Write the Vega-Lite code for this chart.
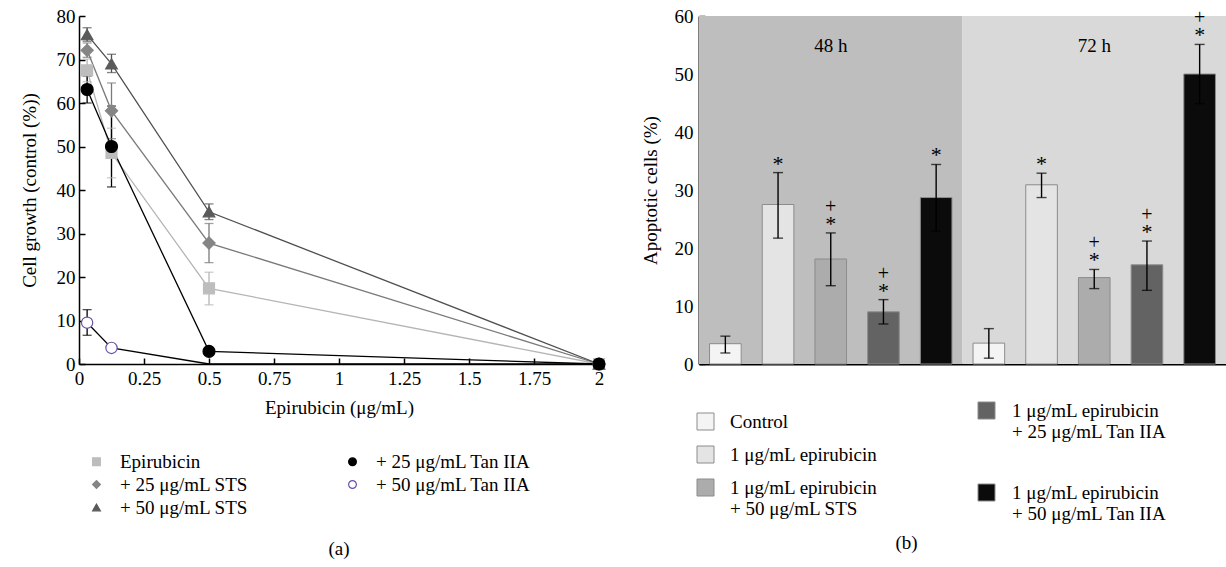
{
  "$schema": "https://vega.github.io/schema/vega-lite/v6.json",
  "padding": {"left": 20, "top": 7, "right": 0, "bottom": 0},
  "config": {
    "font": "Liberation Serif",
    "view": {"stroke": null},
    "axis": {"labelFont": "Liberation Serif", "titleFont": "Liberation Serif", "labelFontSize": 19, "titleFontSize": 19, "titleFontWeight": "normal", "labelColor": "#000", "titleColor": "#000", "domainColor": "#000", "tickColor": "#000", "grid": false, "domainWidth": 1.5, "tickWidth": 1.5},
    "legend": {"labelFont": "Liberation Serif", "labelFontSize": 19, "labelColor": "#000", "labelLimit": 400},
    "title": {"font": "Liberation Serif", "fontSize": 19, "fontWeight": "normal", "color": "#000"},
    "text": {"font": "Liberation Serif"}
  },
  "datasets": {
    "growth": [
      {"series": "Epirubicin", "conc": 0.03125, "pct": 67.5, "lo": 64.9, "hi": 70.1},
      {"series": "Epirubicin", "conc": 0.125, "pct": 48.5, "lo": 42.8, "hi": 54.2},
      {"series": "Epirubicin", "conc": 0.5, "pct": 17.4, "lo": 13.6, "hi": 21.1},
      {"series": "Epirubicin", "conc": 2, "pct": 0, "lo": 0, "hi": 0},
      {"series": "+ 25 μg/mL STS", "conc": 0.03125, "pct": 72.1, "lo": 70.5, "hi": 73.8},
      {"series": "+ 25 μg/mL STS", "conc": 0.125, "pct": 58.2, "lo": 51.8, "hi": 64.6},
      {"series": "+ 25 μg/mL STS", "conc": 0.5, "pct": 27.8, "lo": 23.3, "hi": 32.3},
      {"series": "+ 25 μg/mL STS", "conc": 2, "pct": 0, "lo": 0, "hi": 0},
      {"series": "+ 50 μg/mL STS", "conc": 0.03125, "pct": 75.7, "lo": 74.2, "hi": 77.3},
      {"series": "+ 50 μg/mL STS", "conc": 0.125, "pct": 69.0, "lo": 67.0, "hi": 71.2},
      {"series": "+ 50 μg/mL STS", "conc": 0.5, "pct": 35.0, "lo": 33.2, "hi": 36.8},
      {"series": "+ 50 μg/mL STS", "conc": 2, "pct": 0, "lo": 0, "hi": 0},
      {"series": "+ 50 μg/mL Tan IIA", "conc": 0.03125, "pct": 9.5, "lo": 6.6, "hi": 12.5},
      {"series": "+ 50 μg/mL Tan IIA", "conc": 0.125, "pct": 3.7, "lo": 3.7, "hi": 3.7},
      {"series": "+ 50 μg/mL Tan IIA", "conc": 0.5, "pct": 0, "lo": 0, "hi": 0},
      {"series": "+ 50 μg/mL Tan IIA", "conc": 2, "pct": 0, "lo": 0, "hi": 0},
      {"series": "+ 25 μg/mL Tan IIA", "conc": 0.03125, "pct": 63.1, "lo": 60.0, "hi": 66.2},
      {"series": "+ 25 μg/mL Tan IIA", "conc": 0.125, "pct": 50.0, "lo": 40.7, "hi": 59.3},
      {"series": "+ 25 μg/mL Tan IIA", "conc": 0.5, "pct": 2.9, "lo": 2.9, "hi": 2.9},
      {"series": "+ 25 μg/mL Tan IIA", "conc": 2, "pct": 0, "lo": 0, "hi": 0}
    ],
    "periods": [
      {"period": "48 h"},
      {"period": "72 h"}
    ],
    "apop": [
      {"period": "48 h", "treatment": "Control", "pct": 3.5, "lo": 1.9, "hi": 4.8, "star": false, "plus": false},
      {"period": "48 h", "treatment": "1 μg/mL epirubicin", "pct": 27.5, "lo": 21.7, "hi": 33.0, "star": true, "plus": false},
      {"period": "48 h", "treatment": "1 μg/mL epirubicin|+ 50 μg/mL STS", "pct": 18.1, "lo": 13.5, "hi": 22.6, "star": true, "plus": true},
      {"period": "48 h", "treatment": "1 μg/mL epirubicin|+ 25 μg/mL Tan IIA", "pct": 9.0, "lo": 6.9, "hi": 11.1, "star": true, "plus": true},
      {"period": "48 h", "treatment": "1 μg/mL epirubicin|+ 50 μg/mL Tan IIA", "pct": 28.7, "lo": 22.9, "hi": 34.4, "star": true, "plus": false},
      {"period": "72 h", "treatment": "Control", "pct": 3.6, "lo": 1.0, "hi": 6.1, "star": false, "plus": false},
      {"period": "72 h", "treatment": "1 μg/mL epirubicin", "pct": 30.9, "lo": 28.7, "hi": 32.9, "star": true, "plus": false},
      {"period": "72 h", "treatment": "1 μg/mL epirubicin|+ 50 μg/mL STS", "pct": 14.9, "lo": 13.0, "hi": 16.3, "star": true, "plus": true},
      {"period": "72 h", "treatment": "1 μg/mL epirubicin|+ 25 μg/mL Tan IIA", "pct": 17.1, "lo": 12.7, "hi": 21.2, "star": true, "plus": true},
      {"period": "72 h", "treatment": "1 μg/mL epirubicin|+ 50 μg/mL Tan IIA", "pct": 50.0, "lo": 44.9, "hi": 55.1, "star": true, "plus": true}
    ]
  },
  "spacing": 33,
  "resolve": {
    "scale": {"color": "independent", "fill": "independent", "stroke": "independent", "shape": "independent", "size": "independent", "xOffset": "independent"},
    "legend": {"color": "independent", "fill": "independent", "stroke": "independent", "shape": "independent", "size": "independent"}
  },
  "hconcat": [
    {
      "width": 520,
      "height": 348,
      "data": {"name": "growth"},
      "title": {"text": "(a)", "orient": "bottom", "offset": 22},
      "layer": [
        {
          "transform": [{"filter": "datum.hi > datum.lo"}],
          "mark": {"type": "rule", "strokeWidth": 1.3},
          "encoding": {
            "x": {"field": "conc", "type": "quantitative", "scale": {"domain": [0, 2], "padding": 0, "nice": false}, "axis": {"values": [0, 0.25, 0.5, 0.75, 1, 1.25, 1.5, 1.75, 2], "labelExpr": "'' + datum.value", "labelFlush": false, "title": "Epirubicin (μg/mL)", "tickSize": -6, "labelPadding": 11, "titlePadding": 10}},
            "y": {"field": "lo", "type": "quantitative", "scale": {"domain": [0, 80], "padding": 0, "nice": false}, "axis": {"values": [0, 10, 20, 30, 40, 50, 60, 70, 80], "title": "Cell growth (control (%))", "tickSize": -6, "labelPadding": 10, "titlePadding": 17}},
            "y2": {"field": "hi"},
            "color": {"field": "series", "type": "nominal", "scale": {"domain": ["+ 25 μg/mL STS", "+ 25 μg/mL Tan IIA", "+ 50 μg/mL STS", "+ 50 μg/mL Tan IIA", "Epirubicin"], "range": ["#7a7a7a", "#000000", "#4f4f4f", "#000000", "#b5b5b5"]}, "legend": null}
          }
        },
        {
          "transform": [{"filter": "datum.hi > datum.lo"}],
          "mark": {"type": "tick", "orient": "horizontal", "size": 9, "thickness": 1.3},
          "encoding": {
            "x": {"field": "conc", "type": "quantitative"},
            "y": {"field": "lo", "type": "quantitative"},
            "color": {"field": "series", "type": "nominal", "legend": null}
          }
        },
        {
          "transform": [{"filter": "datum.hi > datum.lo"}],
          "mark": {"type": "tick", "orient": "horizontal", "size": 9, "thickness": 1.3},
          "encoding": {
            "x": {"field": "conc", "type": "quantitative"},
            "y": {"field": "hi", "type": "quantitative"},
            "color": {"field": "series", "type": "nominal", "legend": null}
          }
        },
        {
          "mark": {"type": "line", "strokeWidth": 1.3},
          "encoding": {
            "x": {"field": "conc", "type": "quantitative"},
            "y": {"field": "pct", "type": "quantitative"},
            "color": {"field": "series", "type": "nominal", "legend": null}
          }
        },
        {
          "transform": [{"filter": "datum.pct > 0 || datum.series !== '+ 50 μg/mL Tan IIA'"}],
          "mark": {"type": "point", "filled": true, "strokeWidth": 1.2, "opacity": 1},
          "encoding": {
            "x": {"field": "conc", "type": "quantitative"},
            "y": {"field": "pct", "type": "quantitative"},
            "size": {"field": "series", "type": "ordinal", "scale": {"domain": ["+ 25 μg/mL STS", "+ 25 μg/mL Tan IIA", "+ 50 μg/mL STS", "+ 50 μg/mL Tan IIA", "Epirubicin"], "range": [150, 120, 190, 120, 95]}, "legend": null},
            "shape": {"field": "series", "type": "nominal", "scale": {"domain": ["Epirubicin", "+ 25 μg/mL STS", "+ 50 μg/mL STS", "+ 25 μg/mL Tan IIA", "+ 50 μg/mL Tan IIA"], "range": ["square", "diamond", "triangle-up", "circle", "circle"]},
              "legend": {"title": null, "orient": "none", "legendX": 0, "legendY": 436, "columns": 2, "columnPadding": 86, "rowPadding": 3, "symbolSize": 60, "symbolOffset": 8, "labelOffset": 14, "symbolStrokeWidth": 1.2,
                "labelExpr": "datum.label === 'Epirubicin' ? '\u00a0\u00a0Epirubicin' : datum.label"}},
            "fill": {"field": "series", "type": "nominal", "scale": {"domain": ["Epirubicin", "+ 25 μg/mL STS", "+ 50 μg/mL STS", "+ 25 μg/mL Tan IIA", "+ 50 μg/mL Tan IIA"], "range": ["#bdbdbd", "#858585", "#5a5a5a", "#000000", "#ffffff"]},
              "legend": {"title": null, "orient": "none", "legendX": 0, "legendY": 436, "columns": 2, "columnPadding": 86, "rowPadding": 3, "symbolSize": 60, "symbolOffset": 8, "labelOffset": 14, "symbolStrokeWidth": 1.2,
                "labelExpr": "datum.label === 'Epirubicin' ? '\u00a0\u00a0Epirubicin' : datum.label"}},
            "stroke": {"field": "series", "type": "nominal", "scale": {"domain": ["Epirubicin", "+ 25 μg/mL STS", "+ 50 μg/mL STS", "+ 25 μg/mL Tan IIA", "+ 50 μg/mL Tan IIA"], "range": ["#bdbdbd", "#858585", "#5a5a5a", "#000000", "#6a50a7"]},
              "legend": {"title": null, "orient": "none", "legendX": 0, "legendY": 436, "columns": 2, "columnPadding": 86, "rowPadding": 3, "symbolSize": 60, "symbolOffset": 8, "labelOffset": 14, "symbolStrokeWidth": 1.2,
                "labelExpr": "datum.label === 'Epirubicin' ? '\u00a0\u00a0Epirubicin' : datum.label"}}
          }
        }
      ]
    },
    {
      "width": 527,
      "height": 348,
      "title": {"text": "(b)", "orient": "bottom", "offset": 10, "dx": -56},
      "layer": [
        {
          "data": {"name": "periods"},
          "mark": {"type": "bar"},
          "encoding": {
            "x": {"field": "period", "type": "nominal", "scale": {"domain": ["48 h", "72 h"], "paddingInner": 0, "paddingOuter": 0}, "axis": {"labels": false, "ticks": false, "title": null, "domainWidth": 2}},
            "y": {"datum": 60, "type": "quantitative", "scale": {"domain": [0, 60]}, "axis": {"values": [0, 10, 20, 30, 40, 50, 60], "title": "Apoptotic cells (%)", "tickSize": -6, "labelPadding": 12, "titlePadding": 14, "domainWidth": 2}},
            "y2": {"datum": 0},
            "color": {"condition": {"test": "datum.period === '48 h'", "value": "#bebebe"}, "value": "#d9d9d9"}
          }
        },
        {
          "data": {"name": "periods"},
          "mark": {"type": "text", "fontSize": 19, "baseline": "middle"},
          "encoding": {
            "x": {"field": "period", "type": "nominal"},
            "y": {"datum": 54.8, "type": "quantitative", "axis": {"title": "Apoptotic cells (%)"}},
            "text": {"field": "period"}
          }
        },
        {
          "data": {"name": "apop"},
          "transform": [{"filter": {"field": "treatment", "oneOf": ["Control", "1 μg/mL epirubicin", "1 μg/mL epirubicin|+ 50 μg/mL STS"]}}],
          "mark": {"type": "bar", "stroke": "#8c8c8c", "strokeWidth": 1},
          "encoding": {
            "x": {"field": "period", "type": "nominal"},
            "xOffset": {"field": "treatment", "type": "nominal", "scale": {"domain": ["Control", "1 μg/mL epirubicin", "1 μg/mL epirubicin|+ 50 μg/mL STS", "1 μg/mL epirubicin|+ 25 μg/mL Tan IIA", "1 μg/mL epirubicin|+ 50 μg/mL Tan IIA"], "paddingInner": 0.4, "paddingOuter": 0.2}},
            "y": {"field": "pct", "type": "quantitative", "axis": {"title": "Apoptotic cells (%)"}},
            "color": {"field": "treatment", "type": "nominal", "scale": {"domain": ["Control", "1 μg/mL epirubicin", "1 μg/mL epirubicin|+ 50 μg/mL STS"], "range": ["#f4f4f4", "#e4e4e4", "#acacac"]},
              "legend": {"title": null, "orient": "none", "legendX": -3, "legendY": 396, "symbolType": "square", "symbolSize": 289, "rowPadding": 12, "labelOffset": 15, "symbolStrokeColor": "#8c8c8c", "symbolStrokeWidth": 1, "labelExpr": "split(datum.label, '|')"}}
          }
        },
        {
          "data": {"name": "apop"},
          "transform": [{"filter": {"field": "treatment", "oneOf": ["1 μg/mL epirubicin|+ 25 μg/mL Tan IIA", "1 μg/mL epirubicin|+ 50 μg/mL Tan IIA"]}}],
          "mark": {"type": "bar", "stroke": "#8c8c8c", "strokeWidth": 1},
          "encoding": {
            "x": {"field": "period", "type": "nominal"},
            "xOffset": {"field": "treatment", "type": "nominal"},
            "y": {"field": "pct", "type": "quantitative", "axis": {"title": "Apoptotic cells (%)"}},
            "fill": {"field": "treatment", "type": "nominal", "scale": {"domain": ["1 μg/mL epirubicin|+ 25 μg/mL Tan IIA", "1 μg/mL epirubicin|+ 50 μg/mL Tan IIA"], "range": ["#636363", "#0b0b0b"]},
              "legend": {"title": null, "orient": "none", "legendX": 278, "legendY": 385, "symbolType": "square", "symbolSize": 289, "rowPadding": 40, "labelOffset": 16, "symbolStrokeColor": "#8c8c8c", "symbolStrokeWidth": 1, "labelExpr": "split(datum.label, '|')"}}
          }
        },
        {
          "data": {"name": "apop"},
          "mark": {"type": "rule", "color": "#000", "strokeWidth": 1.4},
          "encoding": {
            "x": {"field": "period", "type": "nominal"},
            "xOffset": {"field": "treatment", "type": "nominal"},
            "y": {"field": "lo", "type": "quantitative", "axis": {"title": "Apoptotic cells (%)"}},
            "y2": {"field": "hi"}
          }
        },
        {
          "data": {"name": "apop"},
          "mark": {"type": "tick", "color": "#000", "size": 10, "thickness": 1.4, "orient": "horizontal"},
          "encoding": {
            "x": {"field": "period", "type": "nominal"},
            "xOffset": {"field": "treatment", "type": "nominal"},
            "y": {"field": "lo", "type": "quantitative", "axis": {"title": "Apoptotic cells (%)"}}
          }
        },
        {
          "data": {"name": "apop"},
          "mark": {"type": "tick", "color": "#000", "size": 10, "thickness": 1.4, "orient": "horizontal"},
          "encoding": {
            "x": {"field": "period", "type": "nominal"},
            "xOffset": {"field": "treatment", "type": "nominal"},
            "y": {"field": "hi", "type": "quantitative", "axis": {"title": "Apoptotic cells (%)"}}
          }
        },
        {
          "data": {"name": "apop"},
          "transform": [{"filter": "datum.star"}],
          "mark": {"type": "text", "fontSize": 22, "baseline": "alphabetic", "dy": -2, "color": "#000"},
          "encoding": {
            "x": {"field": "period", "type": "nominal"},
            "xOffset": {"field": "treatment", "type": "nominal"},
            "y": {"field": "hi", "type": "quantitative", "axis": {"title": "Apoptotic cells (%)"}},
            "text": {"value": "*"}
          }
        },
        {
          "data": {"name": "apop"},
          "transform": [{"filter": "datum.plus"}],
          "mark": {"type": "text", "fontSize": 20, "baseline": "alphabetic", "dy": -20, "color": "#000"},
          "encoding": {
            "x": {"field": "period", "type": "nominal"},
            "xOffset": {"field": "treatment", "type": "nominal"},
            "y": {"field": "hi", "type": "quantitative", "axis": {"title": "Apoptotic cells (%)"}},
            "text": {"value": "+"}
          }
        }
      ]
    }
  ]
}
